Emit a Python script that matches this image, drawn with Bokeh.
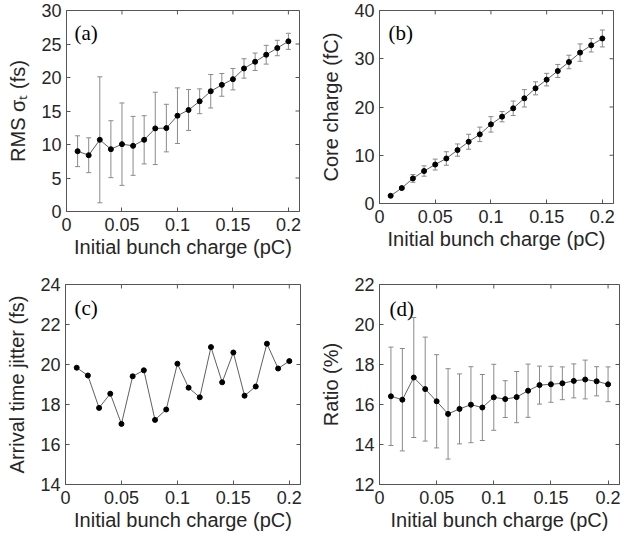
import math
from bokeh.plotting import figure
from bokeh.models import (ColumnDataSource, Whisker, TeeHead, FixedTicker,
                          NumeralTickFormatter, Range1d, Label)
from bokeh.layouts import column, row
from bokeh.embed import file_html
from bokeh.resources import INLINE

# ---------------- data ----------------
charge = [0.01, 0.02, 0.03, 0.04, 0.05, 0.06, 0.07, 0.08, 0.09, 0.10,
          0.11, 0.12, 0.13, 0.14, 0.15, 0.16, 0.17, 0.18, 0.19, 0.20]

rms = [9.0, 8.4, 10.7, 9.3, 10.05, 9.8, 10.7, 12.4, 12.45, 14.3,
       15.15, 16.45, 17.95, 18.9, 19.75, 21.35, 22.35, 23.4, 24.4, 25.4]
rms_err = [2.3, 2.6, 9.4, 4.25, 6.15, 4.4, 3.6, 5.4, 3.55, 4.15,
           3.05, 1.85, 2.5, 1.7, 1.6, 1.45, 1.3, 1.4, 1.15, 1.2]

core = [1.6, 3.2, 5.2, 6.73, 8.07, 9.33, 11.07, 12.8, 14.33, 16.4,
        18.0, 19.73, 21.8, 23.87, 25.67, 27.47, 29.33, 31.27, 32.8, 34.2]
core_err = [0.2, 0.3, 0.8, 1.07, 1.13, 1.4, 1.27, 1.55, 1.5, 1.6,
            1.07, 1.5, 1.8, 1.35, 1.3, 1.35, 1.4, 1.8, 1.4, 1.75]

jitter = [19.84, 19.45, 17.83, 18.54, 17.03, 19.41, 19.71, 17.23, 17.75, 20.04,
          18.84, 18.36, 20.87, 19.11, 20.6, 18.44, 18.9, 21.04, 19.8, 20.17]

ratio = [16.41, 16.24, 17.35, 16.77, 16.16, 15.53, 15.78, 15.99, 15.85, 16.36,
         16.27, 16.37, 16.69, 16.97, 17.01, 17.06, 17.18, 17.25, 17.16, 17.01]
ratio_err = [2.46, 2.56, 3.0, 2.6, 2.33, 2.26, 1.75, 1.9, 1.65, 1.65,
             0.92, 1.28, 1.33, 0.95, 0.9, 0.82, 0.85, 0.97, 0.73, 0.87]

x_ticks = [0, 0.05, 0.1, 0.15, 0.2]
x_max = 0.21
x_label = "Initial bunch charge (pC)"

FONT = "Liberation Sans"
TXT = "#262626"
AX = "#555555"


def make_panel(y, err, y_lo, y_hi, y_ticks, ylabel, tag, tag_xy,
               fw, fh, mleft, mright, mtop, mbottom):
    p = figure(frame_width=fw, frame_height=fh,
               x_range=Range1d(0, x_max), y_range=Range1d(y_lo, y_hi),
               output_backend="svg", toolbar_location=None,
               min_border_left=mleft, min_border_right=mright,
               min_border_top=mtop, min_border_bottom=mbottom,
               background_fill_color="white", border_fill_color="white")
    p.grid.visible = False
    p.outline_line_color = AX
    p.outline_line_width = 1
    p.outline_line_alpha = 1

    for ax, ticks in ((p.xaxis[0], x_ticks), (p.yaxis[0], y_ticks)):
        ax.ticker = FixedTicker(ticks=ticks)
        ax.major_tick_in = 4
        ax.major_tick_out = 0
        ax.minor_tick_line_color = None
        ax.major_tick_line_color = AX
        ax.axis_line_color = AX
        ax.major_label_text_font = FONT
        ax.major_label_text_font_size = "18px"
        ax.major_label_text_color = TXT
        ax.axis_label_text_font = FONT
        ax.axis_label_text_font_size = "20px"
        ax.axis_label_text_font_style = "normal"
        ax.axis_label_text_color = TXT
    p.xaxis[0].formatter = NumeralTickFormatter(format="0.[00]")
    p.xaxis[0].axis_label = x_label
    p.xaxis[0].major_label_standoff = 6
    p.xaxis[0].axis_label_standoff = 2
    p.yaxis[0].axis_label = ylabel
    p.yaxis[0].major_label_standoff = 5
    p.yaxis[0].axis_label_standoff = 9

    # mirrored inward ticks on the top and right edges of the box
    p.scatter(x=x_ticks, y=[y_hi] * len(x_ticks), marker="dash", angle=math.pi / 2,
              size=8, line_color=AX, line_width=1)
    p.scatter(x=[x_max] * len(y_ticks), y=y_ticks, marker="dash",
              size=8, line_color=AX, line_width=1)

    if err is not None:
        src_e = ColumnDataSource(dict(
            x=charge,
            upper=[a + b for a, b in zip(y, err)],
            lower=[a - b for a, b in zip(y, err)]))
        w = Whisker(source=src_e, base="x", upper="upper", lower="lower",
                    line_color="#8a8a8a", line_width=1,
                    upper_head=TeeHead(size=5, line_color="#8a8a8a", line_width=1),
                    lower_head=TeeHead(size=5, line_color="#8a8a8a", line_width=1))
        p.add_layout(w)

    src = ColumnDataSource(dict(x=charge, y=y))
    p.line("x", "y", source=src, line_color="#4d4d4d", line_width=0.9)
    p.scatter("x", "y", source=src, size=5, fill_color="black", line_color="black")

    p.add_layout(Label(x=tag_xy[0], y=tag_xy[1], text=tag,
                       text_font="Liberation Serif", text_font_size="21px",
                       text_baseline="middle", text_align="left", text_color="black"))
    return p


pa = make_panel(rms, rms_err, 0, 30, [0, 5, 10, 15, 20, 25, 30], "RMS σₜ (fs)",
                "(a)", (0.0072, 26.7), 233, 201, 66, 14, 10, 63)
pb = make_panel(core, core_err, 0, 40, [0, 10, 20, 30, 40], "Core charge (fC)",
                "(b)", (0.0081, 35.4), 234, 193, 66, 6, 10, 71)
pc = make_panel(jitter, None, 14, 24, [14, 16, 18, 20, 22, 24], "Arrival time jitter (fs)",
                "(c)", (0.0080, 22.85), 235, 200, 65, 13, 10, 48)
pd = make_panel(ratio, ratio_err, 12, 22, [12, 14, 16, 18, 20, 22], "Ratio (%)",
                "(d)", (0.0088, 20.8), 240, 200, 66, 4, 10, 48)

layout = column(row(pa, pb), row(pc, pd))

open("out.html", "w").write(file_html(layout, INLINE))
